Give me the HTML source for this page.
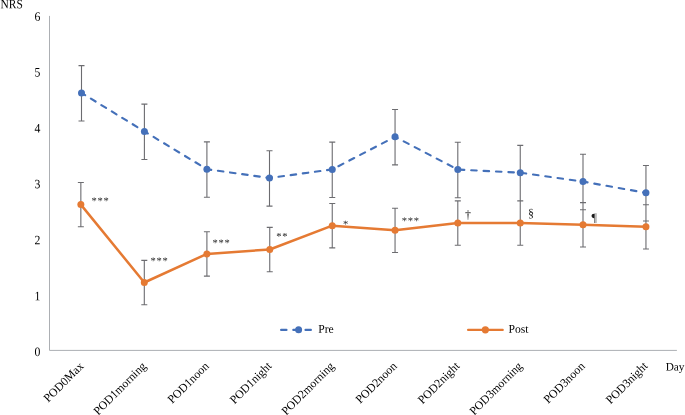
<!DOCTYPE html>
<html><head><meta charset="utf-8"><title>NRS chart</title>
<style>html,body{margin:0;padding:0;background:#fff}svg{display:block}</style></head>
<body>
<svg width="685" height="415" viewBox="0 0 685 415" font-family="'Liberation Serif', serif" font-size="12px" fill="#000">
<rect width="685" height="415" fill="#fff"/>
<path d="M49.5 15.9V350.4H676.9" fill="none" stroke="#acafb3" stroke-width="1"/>
<path d="M81.50 65.60V121.00M78.50 65.60H84.50M78.50 121.00H84.50 M144.40 104.10V159.50M141.40 104.10H147.40M141.40 159.50H147.40 M206.90 141.90V197.30M203.90 141.90H209.90M203.90 197.30H209.90 M269.50 150.70V206.10M266.50 150.70H272.50M266.50 206.10H272.50 M332.25 142.10V197.50M329.25 142.10H335.25M329.25 197.50H335.25 M395.05 109.50V164.90M392.05 109.50H398.05M392.05 164.90H398.05 M457.80 142.30V197.70M454.80 142.30H460.80M454.80 197.70H460.80 M520.25 145.35V200.75M517.25 145.35H523.25M517.25 200.75H523.25 M583.00 154.30V209.70M580.00 154.30H586.00M580.00 209.70H586.00 M645.95 165.55V220.95M642.95 165.55H648.95M642.95 220.95H648.95 M80.85 182.50V226.80M77.85 182.50H83.85M77.85 226.80H83.85 M144.30 260.40V304.70M141.30 260.40H147.30M141.30 304.70H147.30 M206.90 231.80V276.10M203.90 231.80H209.90M203.90 276.10H209.90 M269.75 227.40V271.70M266.75 227.40H272.75M266.75 271.70H272.75 M332.25 203.55V247.85M329.25 203.55H335.25M329.25 247.85H335.25 M395.05 208.25V252.55M392.05 208.25H398.05M392.05 252.55H398.05 M457.80 200.90V245.20M454.80 200.90H460.80M454.80 245.20H460.80 M520.25 200.90V245.20M517.25 200.90H523.25M517.25 245.20H523.25 M583.00 202.65V246.95M580.00 202.65H586.00M580.00 246.95H586.00 M645.95 204.70V249.00M642.95 204.70H648.95M642.95 249.00H648.95" fill="none" stroke="#6c6c70" stroke-width="1.1"/>
<path d="M81.50 92.90 L144.40 131.40 L206.90 169.20 L269.50 178.00 L332.25 169.40 L395.05 136.80" fill="none" stroke="#4470b9" stroke-width="2.15" stroke-dasharray="5.5 6.74" stroke-dashoffset="1.2" stroke-linecap="round" stroke-linejoin="round"/>
<path d="M395.05 136.80 L457.80 169.60 L520.25 172.65 L583.00 181.60 L645.95 192.85" fill="none" stroke="#4470b9" stroke-width="2.15" stroke-dasharray="5.5 6.9" stroke-dashoffset="2.58" stroke-linecap="round" stroke-linejoin="round"/>
<path d="M80.85 204.60 L144.30 282.50 L206.90 253.90 L269.75 249.50 L332.25 225.65 L395.05 230.35 L457.80 223.00 L520.25 223.00 L583.00 224.75 L645.95 226.80" fill="none" stroke="#e57a33" stroke-width="2.5" stroke-linejoin="round" stroke-linecap="round"/>
<circle cx="81.50" cy="92.90" r="3.5" fill="#4470b9"/>
<circle cx="144.40" cy="131.40" r="3.5" fill="#4470b9"/>
<circle cx="206.90" cy="169.20" r="3.5" fill="#4470b9"/>
<circle cx="269.50" cy="178.00" r="3.5" fill="#4470b9"/>
<circle cx="332.25" cy="169.40" r="3.5" fill="#4470b9"/>
<circle cx="395.05" cy="136.80" r="3.5" fill="#4470b9"/>
<circle cx="457.80" cy="169.60" r="3.5" fill="#4470b9"/>
<circle cx="520.25" cy="172.65" r="3.5" fill="#4470b9"/>
<circle cx="583.00" cy="181.60" r="3.5" fill="#4470b9"/>
<circle cx="645.95" cy="192.85" r="3.5" fill="#4470b9"/>
<circle cx="80.85" cy="204.60" r="3.5" fill="#e57a33"/>
<circle cx="144.30" cy="282.50" r="3.5" fill="#e57a33"/>
<circle cx="206.90" cy="253.90" r="3.5" fill="#e57a33"/>
<circle cx="269.75" cy="249.50" r="3.5" fill="#e57a33"/>
<circle cx="332.25" cy="225.65" r="3.5" fill="#e57a33"/>
<circle cx="395.05" cy="230.35" r="3.5" fill="#e57a33"/>
<circle cx="457.80" cy="223.00" r="3.5" fill="#e57a33"/>
<circle cx="520.25" cy="223.00" r="3.5" fill="#e57a33"/>
<circle cx="583.00" cy="224.75" r="3.5" fill="#e57a33"/>
<circle cx="645.95" cy="226.80" r="3.5" fill="#e57a33"/>
<path d="M281.1 329.9H311" fill="none" stroke="#4470b9" stroke-width="2.15" stroke-dasharray="5.4 6.8" stroke-linecap="round"/>
<circle cx="298.6" cy="329.85" r="3.5" fill="#4470b9"/>
<text transform="translate(318.2 332.8) rotate(0.03) scale(0.97 0.98)">Pre</text>
<path d="M468.1 329.95H502.7" fill="none" stroke="#e57a33" stroke-width="2.3" stroke-linecap="round"/>
<circle cx="485.35" cy="329.85" r="3.6" fill="#e57a33"/>
<text transform="translate(508.45 332.8) rotate(0.03) scale(0.97 0.98)">Post</text>
<text transform="translate(40.30 356.10) rotate(0.03) scale(0.98 1.07)" text-anchor="end">0</text>
<text transform="translate(40.30 300.19) rotate(0.03) scale(0.98 1.07)" text-anchor="end">1</text>
<text transform="translate(40.30 244.28) rotate(0.03) scale(0.98 1.07)" text-anchor="end">2</text>
<text transform="translate(40.30 188.37) rotate(0.03) scale(0.98 1.07)" text-anchor="end">3</text>
<text transform="translate(40.30 132.46) rotate(0.03) scale(0.98 1.07)" text-anchor="end">4</text>
<text transform="translate(40.30 76.55) rotate(0.03) scale(0.98 1.07)" text-anchor="end">5</text>
<text transform="translate(40.30 20.64) rotate(0.03) scale(0.98 1.07)" text-anchor="end">6</text>
<text transform="translate(0.55 8.25) rotate(0.03) scale(0.955 1.07)">NRS</text>
<text transform="translate(665.70 370.50) rotate(0.03)" font-size="11.3px">Day</text>
<text transform="translate(84.30 366.80) rotate(-45) scale(0.978 1)" text-anchor="end">POD0Max</text>
<text transform="translate(146.97 366.80) rotate(-45) scale(0.978 1)" text-anchor="end">POD1morning</text>
<text transform="translate(209.64 366.80) rotate(-45) scale(0.978 1)" text-anchor="end">POD1noon</text>
<text transform="translate(272.31 366.80) rotate(-45) scale(0.978 1)" text-anchor="end">POD1night</text>
<text transform="translate(334.98 366.80) rotate(-45) scale(0.978 1)" text-anchor="end">POD2morning</text>
<text transform="translate(397.65 366.80) rotate(-45) scale(0.978 1)" text-anchor="end">POD2noon</text>
<text transform="translate(460.32 366.80) rotate(-45) scale(0.978 1)" text-anchor="end">POD2night</text>
<text transform="translate(522.99 366.80) rotate(-45) scale(0.978 1)" text-anchor="end">POD3morning</text>
<text transform="translate(585.66 366.80) rotate(-45) scale(0.978 1)" text-anchor="end">POD3noon</text>
<text transform="translate(648.33 366.80) rotate(-45) scale(0.978 1)" text-anchor="end">POD3night</text>
<text transform="translate(91.45 204.25) rotate(0.03)" fill="#1a1a1a" font-size="10.5px" letter-spacing="0.75px">***</text>
<text transform="translate(150.45 264.35) rotate(0.03)" fill="#1a1a1a" font-size="10.5px" letter-spacing="0.75px">***</text>
<text transform="translate(212.45 246.15) rotate(0.03)" fill="#1a1a1a" font-size="10.5px" letter-spacing="0.75px">***</text>
<text transform="translate(276.35 239.85) rotate(0.03)" fill="#1a1a1a" font-size="10.5px" letter-spacing="0.75px">**</text>
<text transform="translate(343.05 227.55) rotate(0.03)" fill="#1a1a1a" font-size="10.5px" letter-spacing="0.75px">*</text>
<text transform="translate(401.65 224.35) rotate(0.03)" fill="#1a1a1a" font-size="10.5px" letter-spacing="0.75px">***</text>
<text transform="translate(465.00 218.50) rotate(0.03)" fill="#1a1a1a">†</text>
<text transform="translate(528.00 217.00) rotate(0.03)" fill="#1a1a1a">§</text>
<text transform="translate(591.50 221.60) rotate(0.03)" fill="#1a1a1a">¶</text>
</svg>
</body></html>
